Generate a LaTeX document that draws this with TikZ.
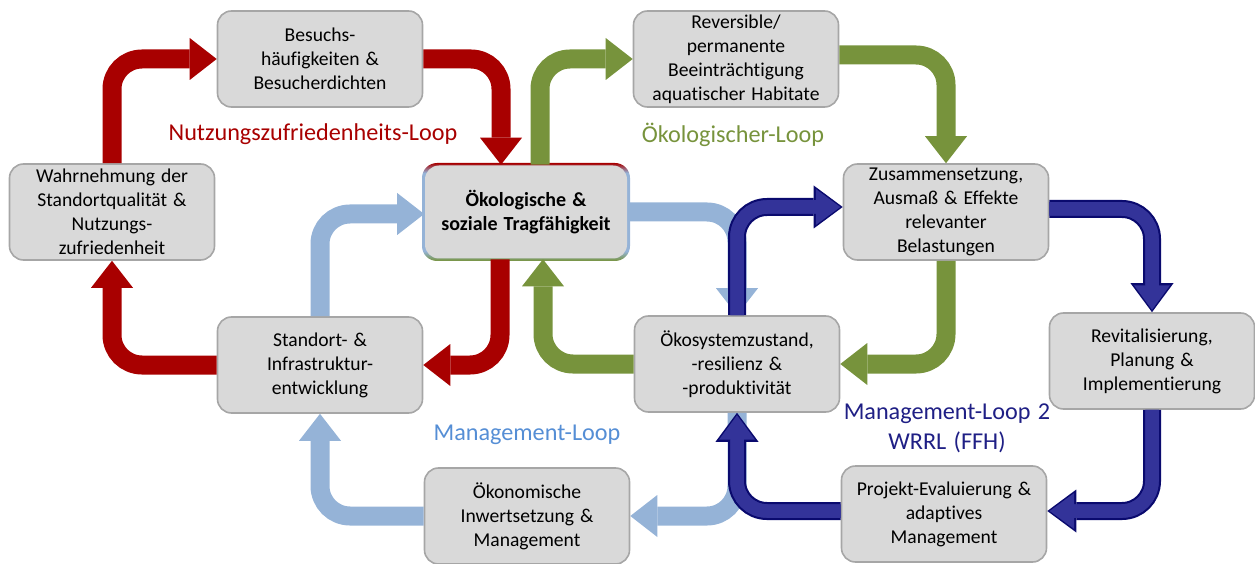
\documentclass[tikz,border=0pt]{standalone}
\usepackage{fontspec}
\setmainfont{Carlito}[Ligatures=NoCommon, WordSpace=1.35]
\usepackage{tikz}
\usetikzlibrary{positioning,arrows.meta,calc}
\usepackage{xcolor}
\definecolor{nutzred}{HTML}{A80000}
\definecolor{oekogreen}{HTML}{77933C}
\definecolor{mgmtblue}{HTML}{95B3D7}
\definecolor{mgmtbluetext}{HTML}{558ED5}
\definecolor{wrrlfill}{HTML}{333399}
\definecolor{wrrlline}{HTML}{0A0A6E}
\definecolor{wrrltext}{HTML}{1F1F85}
\definecolor{boxgray}{HTML}{D9D9D9}
\definecolor{boxline}{HTML}{A6A6A6}
\pgfdeclareverticalshading{tragrand}{100bp}{color(0bp)=(oekogreen); color(25bp)=(oekogreen); color(30bp)=(mgmtblue); color(70bp)=(mgmtblue); color(75bp)=(nutzred); color(100bp)=(nutzred)}

\begin{document}
\begin{tikzpicture}[x=1pt,y=1pt,
  every node/.style={font=\fontsize{19.6pt}{24pt}\selectfont},
  kasten/.style={draw=boxline, line width=1.6pt, fill=boxgray, rounded corners=14pt,
    minimum width=205pt, minimum height=96pt, align=center, inner sep=2pt},
  pfeil/.style={line width=19pt, rounded corners=30pt,
    -{Triangle[width=42pt,length=27pt,line width=0pt]}},
  rotpfeil/.style={pfeil, draw=nutzred},
  gruenpfeil/.style={pfeil, draw=oekogreen},
  blaupfeil/.style={pfeil, draw=mgmtblue},
  wrrlpfeil/.style={line width=18pt, draw=wrrlline, rounded corners=30pt,
    -{Triangle[width=43pt,length=29pt,line width=0pt]},
    postaction={draw=wrrlfill, line width=13.5pt, shorten >=2.4pt,
      -{Triangle[width=36pt,length=24.5pt,line width=0pt]}},
    postaction={draw=wrrlfill, line width=13.5pt, shorten >=25pt, -}},
  looplabel/.style={font=\fontsize{24.2pt}{30pt}\selectfont, align=center}]
\useasboundingbox (0,0) rectangle (1255,563);

\node[kasten] (besuch) at (320,504) {Besuchs-\\häufigkeiten \&\\Besucherdichten};
\node[kasten] (revers) at (736,504) {Reversible/\\permanente\\Beeinträchtigung\\aquatischer Habitate};
\node[kasten] (wahrn) at (112,351) {Wahrnehmung der\\Standortqualität \&\\Nutzungs-\\zufriedenheit};
\shade[shading=tragrand, rounded corners=15pt] (422,302) rectangle (630,400);
\node[kasten, draw=none, minimum width=202pt, minimum height=93pt,
  font=\fontsize{20pt}{24pt}\selectfont\bfseries] (trag) at (526,351) {Ökologische \&\\soziale Tragfähigkeit};
\node[kasten] (zusam) at (946,351) {Zusammensetzung,\\Ausmaß \& Effekte\\relevanter\\Belastungen};
\node[kasten] (standort) at (320,198) {Standort- \&\\Infrastruktur-\\entwicklung};
\node[kasten] (oeko) at (737,199) {Ökosystemzustand,\\-resilienz \&\\-produktivität};
\node[kasten] (revit) at (1152,202) {Revitalisierung,\\Planung \&\\Implementierung};
\node[kasten] (oekon) at (527,47) {Ökonomische\\Inwertsetzung \&\\Management};
\node[kasten] (projekt) at (944,49) {Projekt-Evaluierung \&\\adaptives\\Management};

\node[looplabel, text=nutzred] (nutzloop) at (313,429) {Nutzungszufriedenheits-Loop};
\node[looplabel, text=oekogreen] (oekoloop) at (733,428) {Ökologischer-Loop};
\node[looplabel, text=mgmtbluetext] (mgmtloop) at (527,128) {Management-Loop};
\node[looplabel, text=wrrltext] (wrrlloop) at (947,135) {Management-Loop 2\\WRRL (FFH)};

\draw[rotpfeil] (wahrn.north) |- (besuch.west);
\draw[rotpfeil] (besuch.east) -| ([xshift=-25pt]trag.north);
\draw[rotpfeil] ([xshift=-26pt]trag.south) |- (standort.east);
\draw[rotpfeil] (standort.west) -| (wahrn.south);

\draw[gruenpfeil] ([xshift=14pt]trag.north) |- (revers.west);
\draw[gruenpfeil] ([yshift=4pt]revers.east) -| (zusam.north);
\draw[gruenpfeil] (zusam.south) |- (oeko.east);
\draw[gruenpfeil] (oeko.west) -| ([xshift=17pt]trag.south);

\draw[blaupfeil] (standort.north) |- ([yshift=-2pt]trag.west);
\draw[blaupfeil] (trag.east) -| (oeko.north);
\draw[blaupfeil] (oeko.south) |- (oekon.east);
\draw[blaupfeil] (oekon.west) -| (standort.south);

\draw[wrrlpfeil] (oeko.north) |- ([yshift=5pt]zusam.west);
\draw[wrrlpfeil] ([yshift=3pt]zusam.east) -| (revit.north);
\draw[wrrlpfeil] (revit.south) |- ([yshift=3pt]projekt.east);
\draw[wrrlpfeil] ([yshift=3pt]projekt.west) -| (oeko.south);
\end{tikzpicture}
\end{document}
